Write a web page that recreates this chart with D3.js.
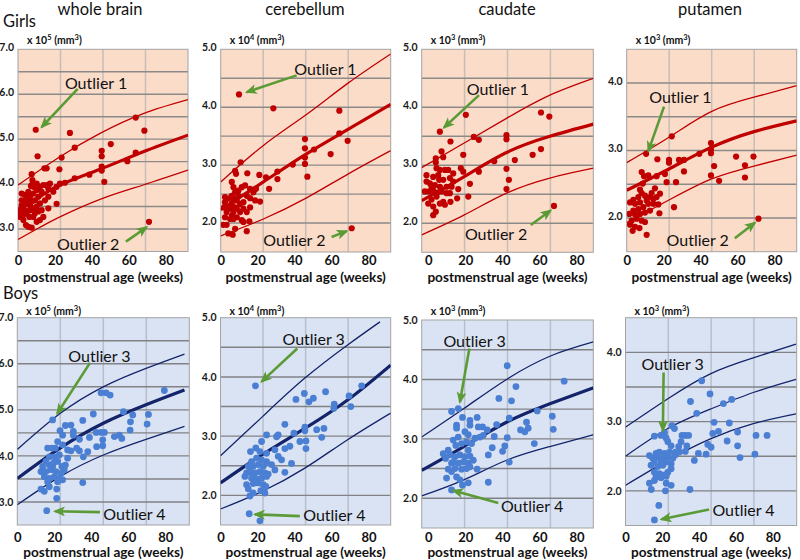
<!DOCTYPE html>
<html><head><meta charset="utf-8">
<script src="https://cdn.jsdelivr.net/npm/d3@7"></script>
<style>body{margin:0;background:#fff}svg{display:block;font-family:Lato,'Open Sans',sans-serif}</style>
</head><body><svg id="c" width="800" height="560"></svg>
<script>
// ================= DATA =================
const regions = ["whole brain", "cerebellum", "caudate", "putamen"];
const groups = ["Girls", "Boys"];
const unitExp = [5, 4, 3, 3];
const xTickLabels = [0, 20, 40, 60, 80];
const yTicksWB = [3, 4, 5, 6, 7];
const yTicks5 = [2, 3, 4, 5];
const yTicks4 = [2, 3, 4];
const xTitle = "postmenstrual age (weeks)";

// ---- Girls: whole brain (x 10^5 mm^3) ----
const gWB_pts = [[9.6,5.21],[28.1,5.14],[10.6,4.62],[23.6,4.59],[30.7,4.81],[50.2,4.89],[45.3,4.74],[45.3,4.62],[63.7,5.48],[68.4,5.19],[63.7,4.70],[59.2,4.51],[45.3,4.39],[45.3,4.30],[46.7,4.05],[38.6,4.21],[30.7,4.13],[25.4,4.03],[22.7,4.01],[22.4,4.33],[14.3,4.35],[15.5,4.35],[70.9,3.16],
[7.4,4.22],[7.8,4.09],[8,4.03],[7,3.96],[2,3.79],[3.8,3.76],[5.6,3.83],[6.5,3.72],[8.3,3.79],[10.1,3.87],[11.9,3.94],[13.7,3.98],[15.5,3.98],[17.3,4.01],[16.4,3.9],[12.8,3.83],[11,3.72],[9.2,3.64],[7.4,3.61],[5.6,3.57],[3.8,3.56],[2,3.53],[0.7,3.42],[1.1,3.35],[2.9,3.31],[4.7,3.35],[6.5,3.42],[8.3,3.46],[10.1,3.5],[11.9,3.57],[14.6,3.64],[16.4,3.72],[16.4,3.46],[20.9,3.56],[13.7,3.27],[11.9,3.2],[10.1,3.16],[5.6,3.05],[7.4,3.03],[4.3,3.09],[2.9,3.2],[1.1,3.27],[2,3.64],[4.7,3.64],[6.1,3.27],[8.3,3.27],[9.2,3.35],[11,3.39],[12.8,3.42],[3.8,3.42],[6.5,3.53],[8.3,3.94],[10.1,4.01],[19.1,3.83],[20.9,3.94]];
const gWB_hi = [[0,3.98],[22.7,4.61],[44.4,5.13],[67.8,5.57],[92,5.88]];
const gWB_med = [[0,3.42],[11.9,3.72],[22.7,3.98],[44.4,4.33],[67.8,4.72],[92,5.09]];
const gWB_lo = [[0,2.77],[11.9,3.04],[22.7,3.27],[44.4,3.66],[67.8,3.98],[92,4.31]];

// ---- Girls: cerebellum (x 10^4 mm^3) ----
const gCB_pts = [[9.9,4.22],[28.5,3.98],[64.2,3.94],[64.2,3.55],[68.7,3.42],[45.6,3.45],[45.6,3.29],[50.5,3.27],[59.5,3.19],[45.6,3.13],[45.6,3.02],[39,3.01],[46.9,2.8],[30.7,2.89],[30.7,2.76],[26.2,2.59],[20.9,2.83],[24.5,2.79],[10.8,3.05],[14.4,2.86],[21.3,2.37],[15.9,2.27],[15.5,2.03],[14.1,1.86],[70.9,1.91],
[7.8,2.9],[8.3,2.85],[6,2.71],[6.9,2.62],[2.3,2.45],[4.1,2.42],[6,2.47],[7.8,2.53],[9.6,2.47],[11.4,2.62],[13.2,2.65],[15.9,2.59],[17.7,2.53],[19.1,2.59],[14.1,2.47],[15.9,2.43],[18.6,2.39],[12.3,2.36],[10.5,2.33],[8.7,2.39],[6,2.33],[4.1,2.27],[1.8,2.27],[3.2,2.19],[5.1,2.25],[6.9,2.19],[8.7,2.25],[10.5,2.19],[12.3,2.25],[14.1,2.19],[2.3,2.1],[5.1,2.07],[6.9,2.07],[8.7,2.1],[11.4,2.05],[1.4,1.97],[3.2,1.97],[7.8,1.9],[4.1,1.82],[6.5,1.8],[12.3,2.02],[6.9,2.42],[2.3,2.36],[9.6,2.56],[7.8,2.27],[6,2.13]];
const gCB_hi = [[0,2.71],[23.1,3.34],[46.2,3.87],[69.1,4.42],[92,4.92]];
const gCB_med = [[0,2.23],[23.1,2.71],[46.2,3.19],[69.1,3.62],[92,4.05]];
const gCB_lo = [[0,1.78],[23.1,2.07],[46.2,2.43],[69.1,2.85],[92,3.25]];

// ---- Girls: caudate (x 10^3 mm^3) ----
const gCD_pts = [[6.3,3.58],[20.3,3.87],[12,3.41],[24.6,3.49],[27.3,3.44],[18.9,3.18],[42.2,3.52],[42.2,3.45],[60.8,3.91],[65.3,3.84],[60.8,3.28],[56.3,3.18],[46.7,3.09],[35.6,3.07],[42.2,2.94],[43.5,2.75],[42.2,2.59],[27.3,2.89],[22.5,2.68],[21.6,2.46],[17.6,2.95],[18.9,2.89],[16.2,2.59],[15.6,2.43],[12,2.37],[67.8,2.3],
[7.2,3.24],[8.1,3.14],[4.1,3.12],[4.1,3.05],[4.5,2.95],[6.3,2.92],[9,2.92],[10.8,2.92],[2.7,2.8],[5.4,2.83],[8.1,2.75],[11.7,2.78],[13.5,2.72],[-0.9,2.72],[0.9,2.69],[3.6,2.66],[6.3,2.63],[9.9,2.63],[12.6,2.63],[-1.8,2.55],[0.5,2.55],[2.7,2.57],[4.9,2.53],[7.2,2.55],[9.9,2.52],[11.7,2.52],[-0.9,2.83],[1.8,2.41],[4.5,2.46],[0,2.34],[2.7,2.29],[8.1,2.37],[6.3,2.34],[4.1,2.2],[2.7,2.14],[9,2.32],[1.8,2.63],[5.9,2.75],[13.5,2.86]];
const gCD_hi = [[-3.5,2.96],[19.2,3.38],[42.2,3.81],[65.6,4.21],[89,4.5]];
const gCD_med = [[-3.5,2.39],[19.2,2.8],[42.2,3.22],[65.6,3.5],[89,3.71]];
const gCD_lo = [[-3.5,1.8],[19.2,2.14],[42.2,2.52],[65.6,2.78],[89,2.95]];

// ---- Girls: putamen (x 10^3 mm^3) ----
const gPT_pts = [[10.5,2.95],[24.4,3.21],[16.6,2.87],[22.9,2.86],[22.9,2.82],[28.3,2.86],[31,2.86],[39.3,2.95],[45.6,3.11],[45.6,3.02],[45.6,2.96],[59.2,2.91],[68.6,2.91],[64,2.78],[64,2.6],[47.3,2.77],[45.6,2.63],[50,2.55],[31,2.69],[26.7,2.53],[21.6,2.53],[20.7,2.65],[16.2,2.62],[25.6,2.16],[71.3,1.99],[10.8,1.75],
[8.1,2.68],[9.4,2.62],[11.7,2.63],[8.7,2.51],[7.2,2.42],[8.1,2.37],[9.9,2.33],[6.3,2.31],[3.6,2.27],[1.8,2.23],[4.5,2.21],[7.2,2.23],[10.8,2.26],[12.6,2.31],[14.4,2.28],[16.2,2.31],[18,2.36],[15.3,2.44],[13.5,2.37],[11.7,2.21],[14.4,2.21],[17.1,2.2],[9,2.16],[6.3,2.13],[3.6,2.11],[1.4,2.06],[4.5,2.05],[7.2,2.06],[9.9,2.08],[12.6,2.11],[17.7,2.07],[2.7,1.96],[5.4,1.99],[8.1,1.96],[9.9,1.94],[1.8,1.9],[4.5,1.87],[6.9,1.85],[3.2,1.81]];
const gPT_hi = [[0,2.82],[23.1,3.2],[46,3.58],[68.9,3.79],[92,3.96]];
const gPT_med = [[0,2.41],[23.1,2.73],[46,3.05],[68.9,3.28],[92,3.44]];
const gPT_lo = [[0,1.93],[23.1,2.27],[46,2.58],[68.9,2.77],[92,2.93]];

// ---- Boys: whole brain ----
const bWB_pts = [[19.1,4.78],[45.3,5.37],[48,5.37],[50.2,5.32],[79.5,5.42],[41.1,4.91],[57.4,4.96],[62.4,4.89],[70.9,4.9],[61.2,4.74],[70.2,4.69],[61,4.56],[35.4,4.77],[26,4.66],[29,4.67],[30.3,4.53],[30.3,4.45],[45.3,4.51],[47.1,4.51],[42.6,4.51],[46.2,4.35],[46.2,4.22],[42.9,4.2],[39,4.4],[33.6,4.36],[52.5,4.42],[55.2,4.45],[56.5,4.38],[38.1,4.09],[35.7,3.98],[33.6,4.11],[32.1,4.17],[29,4.11],[27.2,3.95],[35.4,3.42],[26,3.8],[21.8,4.31],[23.1,4.55],[24.5,4.45],[24.5,4.24],[20.6,4.17],[16.4,4.17],[18.8,4.17],[17.3,3.98],[20,3.98],[22.7,4.02],[13.7,3.77],[15.5,3.88],[17.3,3.8],[19.5,3.84],[21.8,3.88],[24.1,3.77],[12.8,3.66],[15.5,3.66],[18.2,3.7],[20.9,3.66],[23.6,3.62],[14.6,3.55],[17.3,3.51],[20,3.55],[22.7,3.51],[24.5,3.48],[21.8,3.44],[16.4,3.44],[12.8,3.28],[14.6,3.23],[17.3,3.33],[21.3,3.28],[21.3,3.08],[15.9,2.81],[19.1,3.77],[25.4,3.7],[27.2,4.13]];
const bWB_hi = [[0,4.14],[23.1,4.92],[46.5,5.5],[69.6,5.9],[90.4,6.21]];
const bWB_med = [[0,3.51],[23.1,4.17],[46.5,4.71],[69.6,5.11],[90.4,5.43]];
const bWB_lo = [[0,2.94],[23.1,3.55],[46.5,4.02],[69.6,4.36],[90.4,4.64]];

// ---- Boys: cerebellum ----
const bCB_pts = [[18.9,3.85],[76.3,3.85],[69.5,3.68],[70.4,3.5],[61.3,3.47],[61.5,3.54],[56.8,3.75],[45.3,3.72],[50.2,3.64],[47.8,3.58],[40.8,3.62],[34.8,3.2],[45.6,3.15],[45.6,3.09],[55.9,3.13],[52,3.11],[54.7,2.98],[46.2,2.92],[42.9,2.91],[46.2,2.79],[39.7,3.05],[37.5,2.83],[34.8,2.79],[38.4,2.54],[34.8,2.39],[24.9,3.02],[30.3,2.99],[31.2,3.02],[22.2,2.91],[19.1,2.8],[16.2,2.74],[21.3,2.74],[24.9,2.71],[29.4,2.77],[31.2,2.66],[33,2.6],[27.6,2.52],[29.4,2.43],[24.9,2.57],[22.2,2.6],[19.5,2.63],[16.8,2.57],[15,2.49],[17.7,2.49],[20.4,2.52],[23.1,2.49],[15.9,2.4],[18.6,2.38],[21.3,2.4],[24,2.38],[14.1,2.38],[13.2,2.32],[16.8,2.29],[19.5,2.28],[22.2,2.29],[24.9,2.32],[14.1,2.18],[17.7,2.2],[20.4,2.21],[23.1,2.18],[15,2.11],[21.8,2.08],[24,2.04],[15.9,1.99],[17.7,2.04],[24.5,2.15],[15.5,1.69],[21.3,1.57],[25.8,2.36]];
const bCB_hi = [[0,2.67],[22.7,3.33],[45.6,3.98],[68.7,4.54],[86.2,4.93]];
const bCB_med = [[0,2.21],[22.7,2.69],[45.6,3.13],[68.7,3.61],[92,4.2]];
const bCB_lo = [[0,1.77],[22.7,2.07],[45.6,2.46],[68.7,2.94],[92,3.39]];

// ---- Boys: caudate ----
const bCD_pts = [[16.2,3.51],[12.6,3.46],[42.6,4.23],[47.3,3.88],[38.1,3.68],[44.9,3.64],[73.3,3.97],[58.8,3.47],[66.9,3.38],[67.4,3.16],[53,3.28],[53.9,3.18],[49.8,3.15],[52.1,3.12],[57.2,2.92],[43.7,3.35],[36.9,3.24],[35.6,3.04],[42.6,3.02],[41.3,2.88],[40.1,2.79],[34.5,2.85],[32.4,2.73],[43.7,2.61],[32.4,2.27],[31.8,3.15],[29.3,3.2],[27,3.2],[26.4,3.36],[22.5,3.31],[22.5,3.23],[18.5,3.36],[15.3,3.23],[15.3,3.18],[29.7,3.06],[27.9,3.03],[25.2,3.01],[21.6,3.07],[19.8,3.12],[16.2,3.03],[13.5,2.98],[14.9,2.89],[18,2.92],[20.7,2.95],[23.4,2.92],[21.6,2.81],[10.8,2.81],[8.1,2.75],[11.7,2.73],[14.4,2.7],[17.1,2.73],[19.8,2.7],[22.5,2.71],[24.3,2.64],[13.5,2.61],[16.2,2.59],[18.9,2.61],[21.6,2.59],[12.6,2.59],[10.8,2.49],[14.4,2.5],[18,2.49],[20.7,2.5],[26.4,2.49],[22.5,2.53],[12.6,2.45],[15.3,2.36],[17.1,2.31],[18.5,2.22],[21.6,2.26],[9.9,2.34],[12.6,2.14],[9.4,2.67]];
const bCD_hi = [[-3.5,3.03],[19.2,3.51],[42.2,4.0],[65.6,4.39],[89,4.63]];
const bCD_med = [[-3.5,2.47],[19.2,2.87],[42.2,3.28],[65.6,3.59],[89,3.86]];
const bCD_lo = [[-3.5,2.04],[19.2,2.31],[42.2,2.64],[65.6,2.87],[89,3.07]];

// ---- Boys: putamen ----
const bPT_pts = [[41.4,3.59],[45.9,3.4],[35.3,3.29],[53.2,3.26],[57.7,3.32],[38.7,3.12],[25.3,2.94],[26.6,2.9],[48.1,2.99],[56.4,2.98],[50.5,2.86],[47.4,2.83],[60.9,2.85],[70.9,2.8],[76.9,2.8],[55.2,2.72],[60.9,2.65],[44.7,2.67],[46.5,2.63],[43.8,2.53],[39.6,2.54],[37.4,2.44],[62.2,2.48],[70.3,2.53],[35,2.02],[30.7,2.8],[32.5,2.8],[34.3,2.8],[30.2,2.71],[33.3,2.65],[28.9,2.64],[27.1,2.56],[29.3,2.56],[32.5,2.57],[24.8,2.65],[23,2.71],[22.1,2.76],[21.2,2.84],[15.7,2.79],[19.3,2.8],
[13,2.51],[16.6,2.54],[18.4,2.56],[21.2,2.54],[23.9,2.56],[14.8,2.47],[17.5,2.49],[20.3,2.47],[23,2.49],[25.7,2.47],[15.7,2.42],[19.3,2.42],[22.1,2.42],[24.8,2.39],[13.9,2.37],[17.5,2.35],[20.3,2.37],[24.8,2.32],[23,2.27],[15.7,2.27],[18.4,2.25],[21.2,2.23],[16.6,2.2],[19.3,2.19],[22.1,2.21],[15.7,2.15],[13,2.11],[22.1,2.11],[24.8,2.08],[14,2.02],[21.7,2],[27.1,2.52],[18.1,1.79],[15.7,1.58]];
const bPT_hi = [[0,2.92],[23,3.33],[46.1,3.69],[69.4,3.92],[92.6,4.12]];
const bPT_med = [[0,2.5],[23,2.9],[46.1,3.18],[69.4,3.42],[92.6,3.61]];
const bPT_lo = [[0,2.08],[23,2.44],[46.1,2.75],[69.4,2.97],[92.6,3.11]];

// ---- Outlier annotations (data units): label, text (x,y), arrow tail, arrow head ----
const gWB_notes = [["Outlier 1",25.4,6.11,32.3,6.12,12.8,5.27],["Outlier 2",21.1,2.53,58.4,2.72,69.6,3.04]];
const gCB_notes = [["Outlier 1",39.8,4.56,41.1,4.55,14.1,4.26],["Outlier 2",23,1.61,60,1.76,68.2,1.86]];
const gCD_notes = [["Outlier 1",20.8,4.21,27.4,4.21,8.5,3.65],["Outlier 2",19.8,1.71,55.3,1.97,66,2.22]];
const gPT_notes = [["Outlier 1",12.2,3.7,20.2,3.65,11.7,2.99],["Outlier 2",21.6,1.59,58.5,1.7,69.4,1.93]];
const bWB_notes = [["Outlier 3",27.6,6.04,39.3,6.02,21.6,4.92],["Outlier 4",46.5,2.6,44.7,2.78,20.4,2.8]];
const bCB_notes = [["Outlier 3",33.5,4.54,41.5,4.48,22.2,3.92],["Outlier 4",44.7,1.56,42.9,1.65,18.6,1.68]];
const bCD_notes = [["Outlier 3",8.2,4.55,22.2,4.52,17.1,3.62],["Outlier 4",39.2,1.77,37.8,1.92,13.5,2.13]];
const bPT_notes = [["Outlier 3",8.7,3.74,20.7,3.71,20.3,2.87],["Outlier 4",47.2,1.63,45.4,1.73,19.5,1.59]];

// ================= LAYOUT / STYLE =================
const panels = [
 {g:0,c:0,L:18,R:188,T:49.3,B:251.5,xd:[0,92],yd:[2.5,7],yt:yTicksWB,pts:gWB_pts,cv:[gWB_hi,gWB_med,gWB_lo],notes:gWB_notes,thick:true},
 {g:0,c:1,L:220.7,R:390.7,T:49.3,B:252,xd:[0,92],yd:[1.5,5],yt:yTicks5,pts:gCB_pts,cv:[gCB_hi,gCB_med,gCB_lo],notes:gCB_notes,thick:true},
 {g:0,c:2,L:421.7,R:593.3,T:49.3,B:252.3,xd:[-3.5,89],yd:[1.5,5],yt:yTicks5,pts:gCD_pts,cv:[gCD_hi,gCD_med,gCD_lo],notes:gCD_notes,thick:true},
 {g:0,c:3,L:626.7,R:796.7,T:49.3,B:251.7,xd:[0,92],yd:[1.5,4.5],yt:yTicks4,pts:gPT_pts,cv:[gPT_hi,gPT_med,gPT_lo],notes:gPT_notes,thick:true},
 {g:1,c:0,L:17.3,R:189.3,T:317.7,B:525,xd:[0,93],yd:[2.5,7],yt:yTicksWB,pts:bWB_pts,cv:[bWB_hi,bWB_med,bWB_lo],notes:bWB_notes,thick:true},
 {g:1,c:1,L:220.5,R:390.7,T:317.7,B:525,xd:[0,92],yd:[1.5,5],yt:yTicks5,pts:bCB_pts,cv:[bCB_hi,bCB_med,bCB_lo],notes:bCB_notes,thick:true},
 {g:1,c:2,L:421.7,R:593.3,T:320,B:528,xd:[-3.5,89],yd:[1.5,5],yt:yTicks5,pts:bCD_pts,cv:[bCD_hi,bCD_med,bCD_lo],notes:bCD_notes,thick:true},
 {g:1,c:3,L:625.5,R:796.7,T:317.7,B:525.5,xd:[0,93],yd:[1.5,4.5],yt:yTicks4,pts:bPT_pts,cv:[bPT_hi,bPT_med,bPT_lo],notes:bPT_notes,thick:false}
];
const sty = [
 {bg:"#fbdcc9", dot:"#c00000", line:"#c00000", hg:"#8c8a89", vg:"#c9bdb4", r:3.1, tickY:265, titleY:281.5, yDy:"0.14em", unitY:43.5, groupY:27},
 {bg:"#dae3f3", dot:"#4a7fd3", line:"#14246b", hg:"#808286", vg:"#b8bfcc", r:3.4, tickY:541.5, titleY:556.5, yDy:"0.3em", unitY:314.5, groupY:298.5}
];
const titleX = [100, 305, 507, 710];
const green = "#5b9b35";

const svg = d3.select("#c");
const defs = svg.append("defs");
defs.append("marker").attr("id","ah").attr("markerUnits","userSpaceOnUse")
  .attr("viewBox","0 0 12 10").attr("markerWidth",12).attr("markerHeight",10)
  .attr("refX",10).attr("refY",5).attr("orient","auto")
  .append("path").attr("d","M0,0 L12,5 L0,10 L3,5 Z").attr("fill",green);

// column titles
regions.forEach((r,i)=>svg.append("text").attr("x",titleX[i]).attr("y",15)
  .attr("text-anchor","middle").attr("font-size",16.5).attr("fill","#111").text(r));
// group labels
groups.forEach((g,i)=>svg.append("text").attr("x",3).attr("y",sty[i].groupY)
  .attr("font-size",16.5).attr("fill","#111").text(g));

panels.forEach((p,k)=>{
  const s = sty[p.g];
  const x = d3.scaleLinear().domain(p.xd).range([p.L,p.R]);
  const y = d3.scaleLinear().domain(p.yd).range([p.B,p.T]);
  const gp = svg.append("g");
  const cid = "clip"+k;
  defs.append("clipPath").attr("id",cid).append("rect")
    .attr("x",p.L).attr("y",p.T).attr("width",p.R-p.L).attr("height",p.B-p.T);
  gp.append("rect").attr("x",p.L).attr("y",p.T).attr("width",p.R-p.L).attr("height",p.B-p.T).attr("fill",s.bg);
  // vertical grid at quarter points
  const vq = [1,2,3].map(i=>p.xd[0]+i*(p.xd[1]-p.xd[0])/4);
  gp.selectAll(".vg").data(vq).join("line").attr("x1",d=>x(d)).attr("x2",d=>x(d))
    .attr("y1",p.T).attr("y2",p.B).attr("stroke",s.vg).attr("stroke-width",1.5);
  // horizontal grid every 0.5
  const hq = d3.range(p.yd[0]+0.5, p.yd[1]-0.01, 0.5);
  gp.selectAll(".hg").data(hq).join("line").attr("x1",p.L).attr("x2",p.R)
    .attr("y1",d=>y(d)).attr("y2",d=>y(d)).attr("stroke",s.hg).attr("stroke-width",1.4);
  gp.append("rect").attr("x",p.L).attr("y",p.T).attr("width",p.R-p.L).attr("height",p.B-p.T)
    .attr("fill","none").attr("stroke","#a3a3a3").attr("stroke-width",1);

  const inner = gp.append("g").attr("clip-path",`url(#${cid})`);
  const line = d3.line().x(d=>x(d[0])).y(d=>y(d[1])).curve(d3.curveNatural);
  p.cv.forEach((c,i)=>inner.append("path").attr("d",line(c)).attr("fill","none")
    .attr("stroke",s.line).attr("stroke-width",(i===1&&p.thick)?3.2:1.3));
  inner.selectAll("circle").data(p.pts).join("circle")
    .attr("cx",d=>x(d[0])).attr("cy",d=>y(d[1])).attr("r",s.r).attr("fill",s.dot);

  // axes
  const ay = gp.append("g").attr("transform",`translate(${p.L},0)`)
    .call(d3.axisLeft(y).tickValues(p.yt).tickSize(0).tickPadding(4).tickFormat(d3.format(".1f")));
  ay.select(".domain").remove();
  ay.selectAll("text").attr("dy",s.yDy).attr("font-size",10.5).attr("font-weight","bold")
    .attr("font-family","Lato, sans-serif").attr("fill","#1a1a1a");
  const ax = gp.append("g").attr("transform",`translate(0,${s.tickY})`)
    .call(d3.axisBottom(x).tickValues(xTickLabels).tickSize(0).tickPadding(0));
  ax.select(".domain").remove();
  ax.selectAll("text").attr("y",0).attr("dy",0).attr("font-size",13).attr("font-weight","bold")
    .attr("font-family","Lato, sans-serif").attr("fill","#111");
  gp.append("text").attr("x",(p.L+p.R)/2).attr("y",s.titleY).attr("text-anchor","middle")
    .attr("font-size",13.6).attr("font-weight","bold").attr("fill","#111").text(xTitle);
  // unit label
  const ut = gp.append("text").attr("x",p.L+9).attr("y",s.unitY).attr("font-size",10.5)
    .attr("font-weight","bold").attr("fill","#111");
  ut.append("tspan").text("x 10");
  ut.append("tspan").attr("dy",-4).attr("font-size",7.5).text(unitExp[p.c]);
  ut.append("tspan").attr("dy",4).text(" (mm");
  ut.append("tspan").attr("dy",-4).attr("font-size",7.5).text("3");
  ut.append("tspan").attr("dy",4).text(")");

  // annotations
  p.notes.forEach(n=>{
    gp.append("line").attr("x1",x(n[3])).attr("y1",y(n[4])).attr("x2",x(n[5])).attr("y2",y(n[6]))
      .attr("stroke",green).attr("stroke-width",2.6).attr("marker-end","url(#ah)");
    gp.append("text").attr("x",x(n[1])).attr("y",y(n[2])).attr("font-size",16)
      .attr("fill","#111").text(n[0]);
  });
});
</script></body></html>
